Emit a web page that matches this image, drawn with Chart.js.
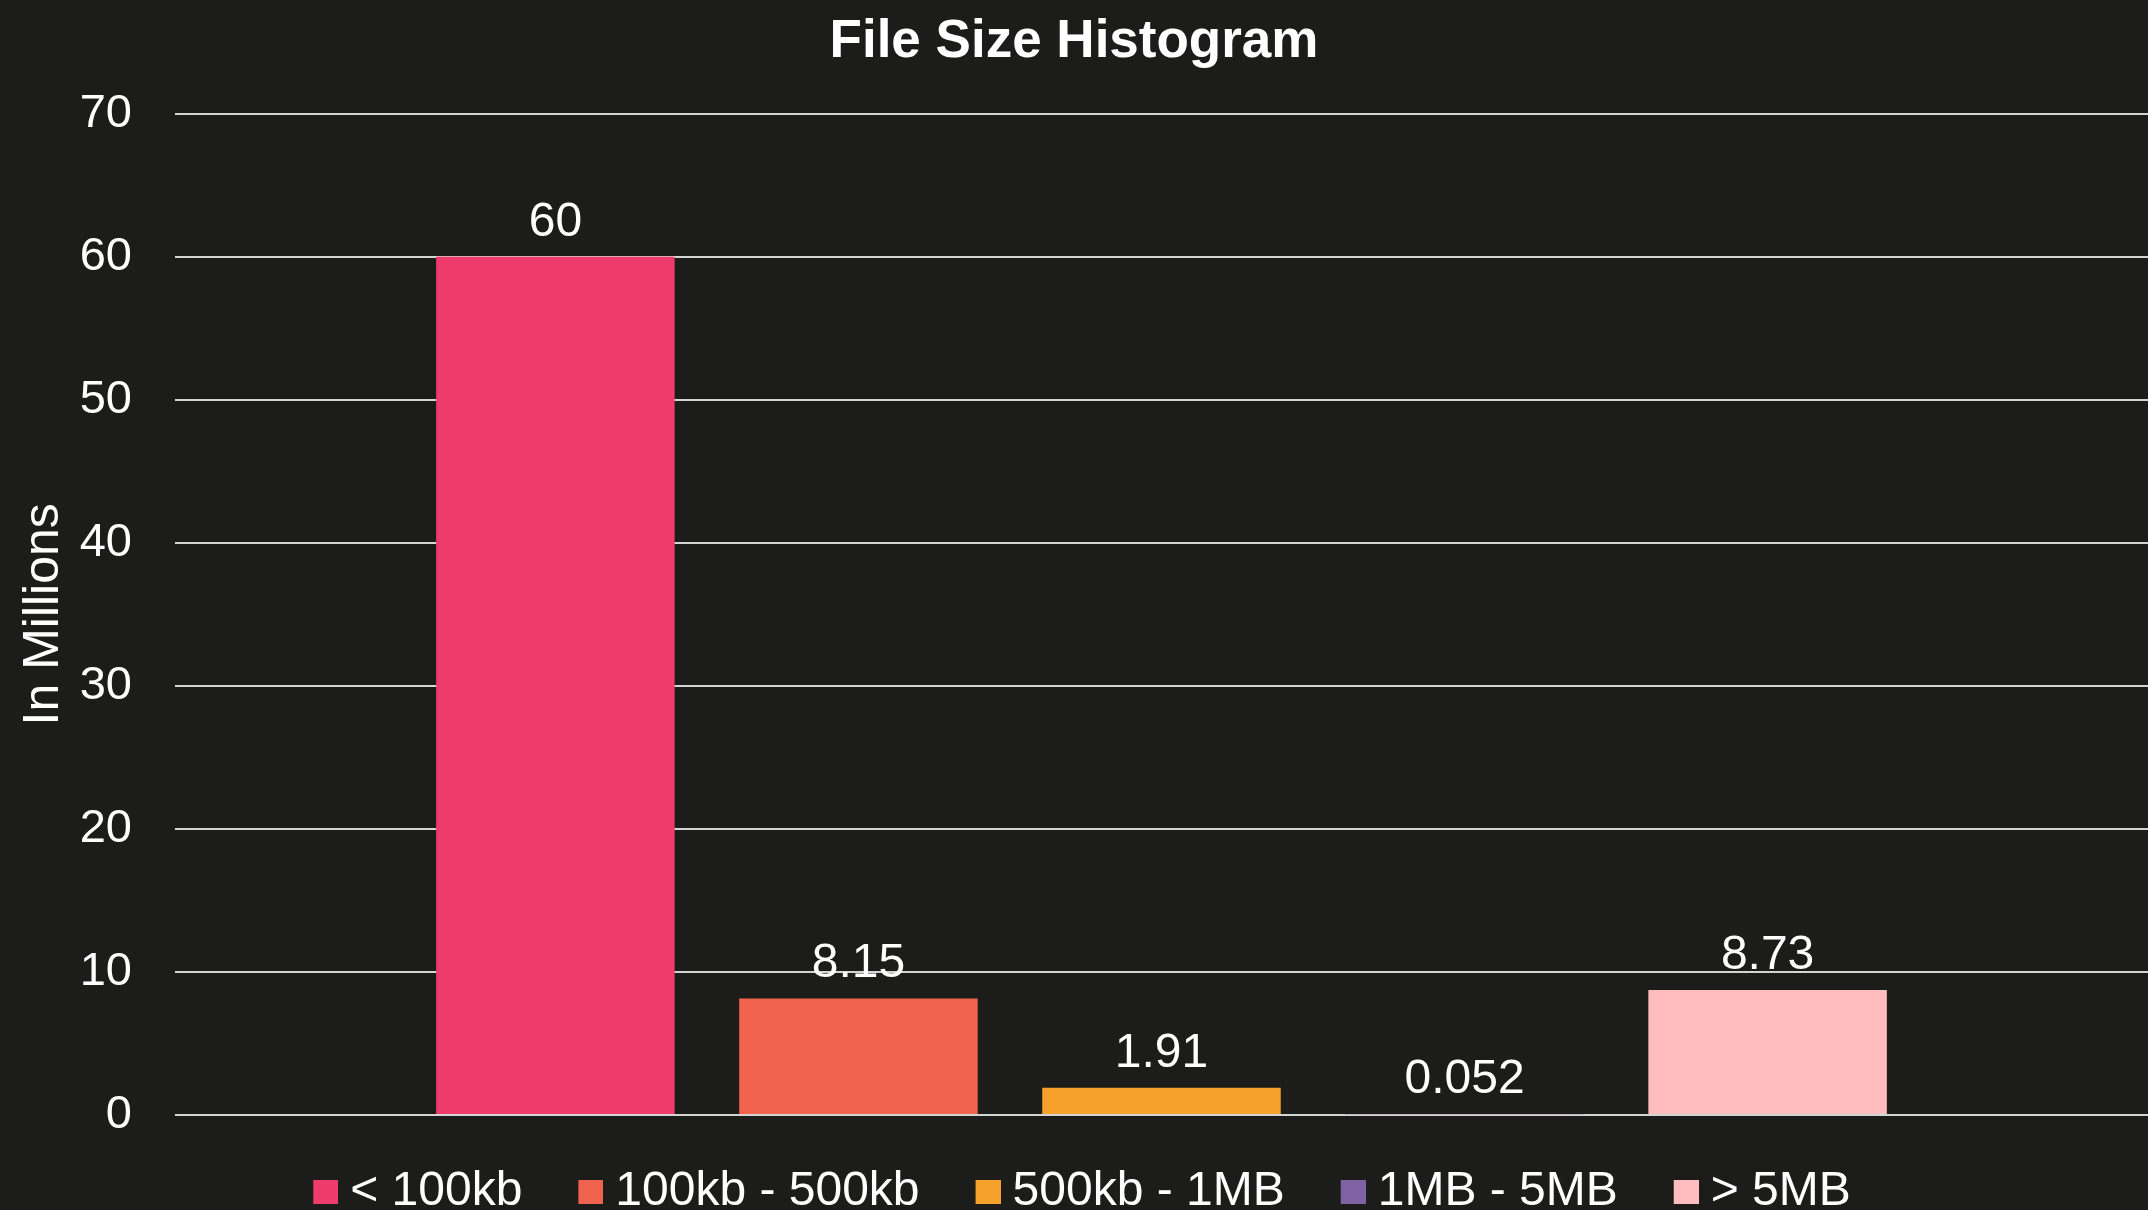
<!DOCTYPE html>
<html>
<head>
<meta charset="utf-8">
<title>File Size Histogram</title>
<script src="https://cdn.jsdelivr.net/npm/chart.js@4/dist/chart.umd.min.js"></script>
<style>
  html, body { margin: 0; padding: 0; background: #1c1c1a; }
  #wrap { width: 2148px; height: 1210px; }
</style>
</head>
<body>
<div id="wrap"><canvas id="chart" width="2148" height="1210"></canvas></div>
<script>
// Single group of bars, one dataset per size bucket (millions of files)
const categories = ['Files'];
const bucketNames = ['< 100kb', '100kb - 500kb', '500kb - 1MB', '1MB - 5MB', '> 5MB'];
const bucketValues = [60, 8.15, 1.91, 0.052, 8.73];
const bucketLabels = ['60', '8.15', '1.91', '0.052', '8.73'];
const bucketColors = ['#ef3b6b', '#f0624e', '#f7a12d', '#7f62a2', '#ffbdbf'];
const yTicks = [0, 10, 20, 30, 40, 50, 60, 70];

const FONT = "'Liberation Sans', Arial, sans-serif";
const LEGEND_SIZE = 48;
const SWATCH_STRIP = 29;

// Legend swatch: a square drawn at the right end of a transparent strip,
// so the gap between swatch and text stays tight.
function swatch(color) {
  const c = document.createElement('canvas');
  c.width = SWATCH_STRIP + LEGEND_SIZE / 2;
  c.height = 24;
  const g = c.getContext('2d');
  g.fillStyle = color;
  g.fillRect(c.width - 25, 0, 25, 24);
  return c;
}

// Value labels above each bar
const valueLabels = {
  id: 'valueLabels',
  afterDatasetsDraw(chart) {
    const ctx = chart.ctx;
    ctx.save();
    ctx.fillStyle = '#ffffff';
    ctx.font = '48px ' + FONT;
    ctx.textAlign = 'center';
    ctx.textBaseline = 'alphabetic';
    chart.data.datasets.forEach((ds, i) => {
      const meta = chart.getDatasetMeta(i);
      meta.data.forEach((bar) => {
        ctx.fillText(bucketLabels[i], bar.x, bar.y - 21);
      });
    });
    ctx.restore();
  }
};

new Chart(document.getElementById('chart'), {
  type: 'bar',
  data: {
    labels: categories,
    datasets: bucketNames.map((name, i) => ({
      label: name,
      data: [bucketValues[i]],
      backgroundColor: bucketColors[i],
      borderWidth: 0,
      categoryPercentage: 0.768,
      barPercentage: 0.787
    }))
  },
  options: {
    responsive: false,
    animation: false,
    layout: { padding: { left: 0, right: 0, top: 0, bottom: -16 } },
    plugins: {
      title: {
        display: true,
        text: 'File Size Histogram',
        color: '#ffffff',
        font: { family: FONT, size: 53, weight: 'bold' },
        padding: { top: 11, bottom: 39 }
      },
      legend: {
        display: true,
        position: 'bottom',
        labels: {
          color: '#ffffff',
          font: { family: FONT, size: LEGEND_SIZE },
          usePointStyle: true,
          pointStyleWidth: SWATCH_STRIP,
          padding: 40,
          generateLabels(chart) {
            return chart.data.datasets.map((ds, i) => ({
              text: ds.label,
              fillStyle: ds.backgroundColor,
              strokeStyle: ds.backgroundColor,
              fontColor: '#ffffff',
              lineWidth: 0,
              pointStyle: swatch(ds.backgroundColor),
              hidden: !chart.isDatasetVisible(i),
              datasetIndex: i
            }));
          }
        }
      },
      tooltip: { enabled: false }
    },
    scales: {
      x: {
        display: true,
        ticks: { display: false },
        grid: { display: false },
        border: { display: false },
        afterFit(scale) { scale.height = 13; }
      },
      y: {
        min: 0,
        max: 70,
        afterBuildTicks(scale) { scale.ticks = yTicks.map(v => ({ value: v })); },
        afterFit(scale) { scale.width = 175; },
        ticks: {
          color: '#ffffff',
          font: { family: FONT, size: 47 },
          padding: 43
        },
        grid: { color: '#d4d4d4', lineWidth: 2, drawTicks: false },
        border: { display: false },
        title: {
          display: true,
          text: 'In Millions',
          color: '#ffffff',
          font: { family: FONT, size: 50 },
          padding: { top: 14, bottom: 8 }
        }
      }
    }
  },
  plugins: [valueLabels]
});
</script>
</body>
</html>
